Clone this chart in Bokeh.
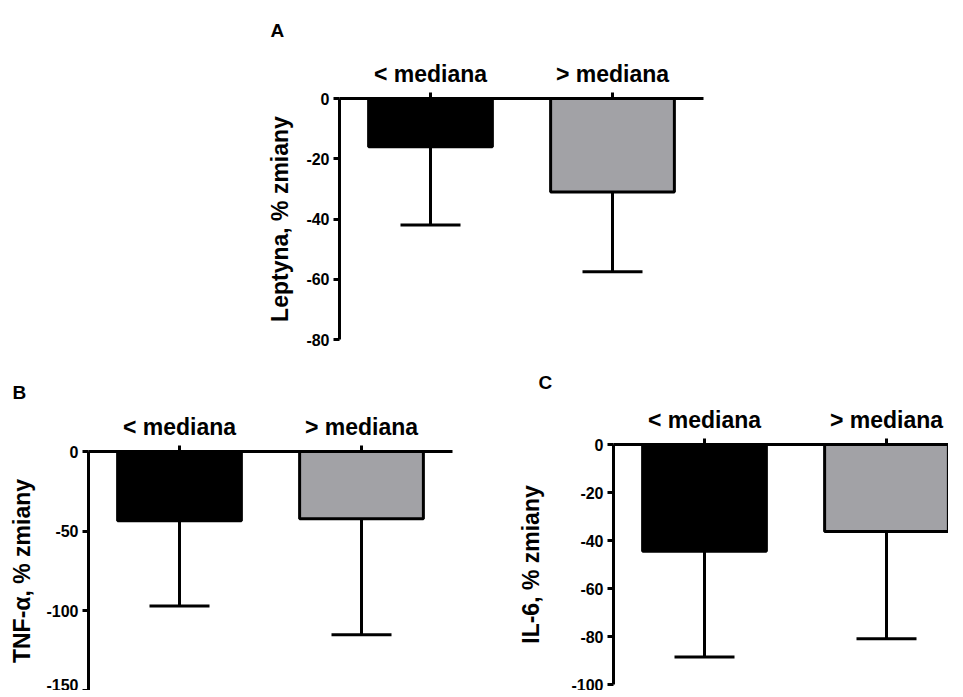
from bokeh.plotting import figure
from bokeh.models import Range1d, FixedTicker, Whisker, TeeHead, ColumnDataSource, Title
from bokeh.layouts import column, row
from bokeh.embed import file_html
from bokeh.resources import INLINE

# ---- data ----
categories = ["< mediana", "> mediana"]
bar_colors = ["#000000", "#a2a2a6"]

leptyna_mean = [-16.0, -31.0]
leptyna_low = [-42.0, -57.5]
leptyna_ticks = [0, -20, -40, -60, -80]
leptyna_tick_labels = ["0", "-20", "-40", "-60", "-80"]

tnf_mean = [-43.4, -42.2]
tnf_low = [-97.0, -115.0]
tnf_ticks = [0, -50, -100, -150]
tnf_tick_labels = ["0", "-50", "-100", "-150"]

il6_mean = [-44.5, -36.3]
il6_low = [-88.5, -80.9]
il6_ticks = [0, -20, -40, -60, -80, -100]
il6_tick_labels = ["0", "-20", "-40", "-60", "-80", "-100"]

FONT = "Liberation Sans"


def make_panel(means, lows, ticks, tick_labels, ylabel, letter, letter_offset, letter_standoff,
               label_standoff,
               border_left, frame_w, border_right, border_top, frame_h, border_bottom,
               x_end):
    xs = [i + 0.5 for i in range(len(categories))]
    src = ColumnDataSource(dict(x=xs, mean=means, low=lows, zero=[0] * len(xs),
                                color=bar_colors, cat=categories))
    p = figure(width=border_left + frame_w + border_right,
               height=border_top + frame_h + border_bottom,
               min_border_left=border_left, min_border_right=border_right,
               min_border_top=border_top, min_border_bottom=border_bottom,
               x_range=Range1d(0, x_end), y_range=Range1d(min(ticks), 0),
               x_axis_location="above", y_axis_location="left",
               toolbar_location=None, output_backend="svg")
    p.title = Title(text=letter, align="left", offset=letter_offset, standoff=letter_standoff,
                    text_font=FONT, text_font_style="bold", text_font_size="19px",
                    text_color="black")
    p.outline_line_color = None
    p.xgrid.visible = False
    p.ygrid.visible = False
    p.background_fill_color = "white"
    p.border_fill_color = "white"

    p.vbar(x="x", top="zero", bottom="mean", width=0.68, source=src,
           fill_color="color", line_color="black", line_width=3)
    wh = Whisker(base="x", upper="mean", lower="low", source=src,
                 line_color="black", line_width=3, upper_head=None,
                 lower_head=TeeHead(size=60, line_color="black", line_width=3))
    p.add_layout(wh)

    for ax in (p.xaxis[0], p.yaxis[0]):
        ax.axis_line_width = 3
        ax.axis_line_color = "black"
        ax.major_tick_line_width = 3
        ax.major_tick_line_color = "black"
        ax.major_tick_out = 6
        ax.major_tick_in = 0
        ax.minor_tick_line_color = None
        ax.major_label_text_font = FONT
        ax.major_label_text_font_style = "bold"
        ax.major_label_text_color = "black"

    xa = p.xaxis[0]
    xa.ticker = FixedTicker(ticks=xs)
    xa.major_label_overrides = {x: c for x, c in zip(xs, categories)}
    xa.major_label_text_font_size = "23px"
    xa.major_label_standoff = 6

    ya = p.yaxis[0]
    ya.ticker = FixedTicker(ticks=ticks)
    ya.major_label_overrides = {t: l for t, l in zip(ticks, tick_labels)}
    ya.major_label_text_font_size = "16px"
    ya.major_label_standoff = 4
    ya.axis_label = ylabel
    ya.axis_label_text_font = FONT
    ya.axis_label_text_font_style = "bold"
    ya.axis_label_text_font_size = "23px"
    ya.axis_label_text_color = "black"
    ya.axis_label_standoff = label_standoff
    return p


pA = make_panel(leptyna_mean, leptyna_low, leptyna_ticks, leptyna_tick_labels,
                "Leptyna, % zmiany", "A", -69, 33, 10,
                339, 364, 244, 98, 241, 19, 2.0)
pB = make_panel(tnf_mean, tnf_low, tnf_ticks, tnf_tick_labels,
                "TNF-\u03b1, % zmiany", "B", -76, 16, 8,
                88, 364, 10, 93, 239, 0, 2.0)
pC = make_panel(il6_mean, il6_low, il6_ticks, il6_tick_labels,
                "IL-6, % zmiany", "C", -75, 22, 24,
                151, 335, 0, 85, 241, 6, 335 / 182)

layout = column(pA, row(pB, column(pC, width=pC.width, height=pC.height)))
open("out.html", "w").write(file_html(layout, INLINE))
